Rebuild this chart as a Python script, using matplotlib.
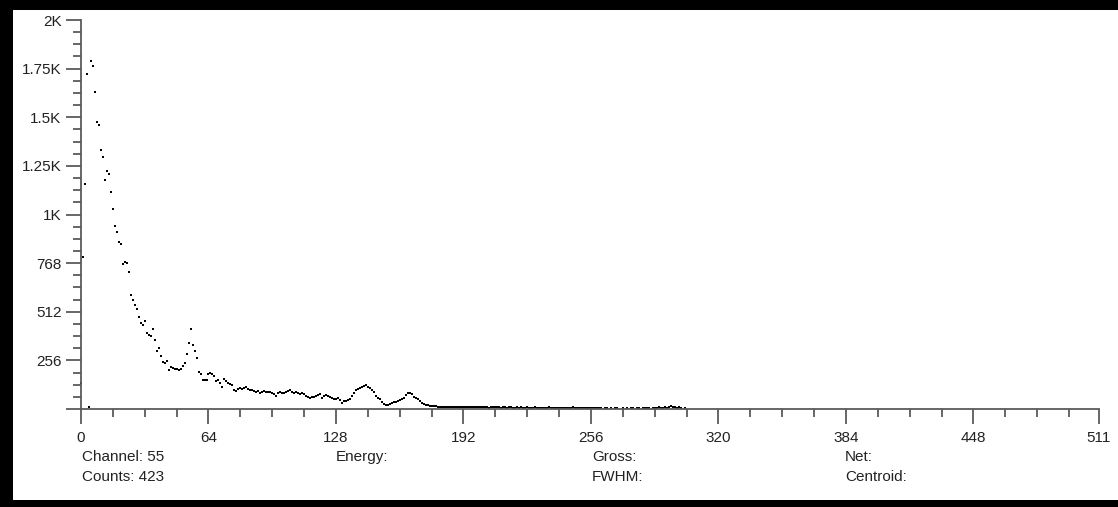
#!/usr/bin/env python3

"""MCA spectrum - counts per channel"""

import numpy as np
import matplotlib
matplotlib.use("Agg")
import matplotlib.pyplot as plt
from matplotlib.patches import Rectangle
from matplotlib.ticker import MultipleLocator, FixedLocator

plt.rcParams['font.family'] = ['Liberation Sans', 'DejaVu Sans']

# counts, channel 0 upwards
counts_low = [139, 802, 1183, 1762, 12, 1834, 1808, 1667, 1513, 1497,
              1362, 1325, 1207, 1255, 1239, 1144, 1054, 963, 934, 881,
              867, 762, 776, 770, 720, 600, 574, 548, 528, 486,
              454, 442, 465, 399, 391, 386, 423, 363, 307, 321]
counts_peak = [279, 249, 244, 254, 205, 219, 218, 212, 209, 205,
               209, 226, 244, 288, 346, 423, 337, 305, 270, 193,
               183, 153, 153, 153, 183, 188, 183, 174, 147, 153,
               139, 117, 156, 149, 139, 132, 125, 100, 95, 104,
               112, 105, 112, 115, 104, 100]
counts_mid = [98, 95, 92, 96, 83, 90, 95, 88, 92, 90,
              85, 80, 70, 85, 90, 86, 83, 92, 95, 100,
              92, 85, 88, 82, 80, 83, 78, 70, 62, 56,
              62, 65, 70, 74, 78, 60, 66, 73, 68, 65,
              58, 51, 54, 56, 47, 33, 40, 43, 48, 51,
              68, 83, 100, 104, 109, 118, 123, 126, 118, 109,
              100, 91, 68, 58, 51, 38, 28, 21, 21, 25,
              30, 35, 39, 43, 47, 52, 56, 74, 83, 83,
              79, 65, 58, 51, 42, 33, 25, 23, 21, 18,
              17, 16, 14, 12, 12, 13, 11, 12, 10, 11, 9]
counts_tail = [10, 9, 11, 8, 9, 10, 8, 9, 11, 9, 8, 10, 9, 8,
               9, 8, 10, 9, 7, 8, 9, 8, 10, 8, 7, 9, 8, 7, 8, 9, 7, 6, 8, 7,
               8, 7, 6, 8, 7, 6, 7, 8, 6, 7, 5, 6, 7, 6, 8, 7, 6, 5, 6, 7,
               6, 5, 7, 6, 5, 6, 8, 6, 5, 6, 7, 5, 6, 5, 4, 6, 5, 7, 5, 4,
               5, 0, 6, 4, 0, 5, 0, 4, 6, 0, 0, 5, 0, 4, 0, 6, 5, 0, 4, 5,
               0, 5, 6, 4, 5, 0, 7, 5, 6, 8, 5, 6, 9, 7, 10, 14, 8, 12, 6, 9,
               5, 0, 4, 0, 0]

counts = np.array(counts_low + counts_peak + counts_mid + counts_tail)
channels = np.arange(len(counts))

x_major = [0, 64, 128, 192, 256, 320, 384, 448, 511]
x_labels = ["0", "64", "128", "192", "256", "320", "384", "448", "511"]
y_major = [0, 256, 512, 768, 1024, 1280, 1536, 1792, 2048]
y_labels = ["", "256", "512", "768", "1K", "1.25K", "1.5K", "1.75K", "2K"]

W, H = 1118, 507
fig = plt.figure(figsize=(W / 100, H / 100), dpi=100, facecolor="black")
# white panel inside the black frame (frame on left, top and bottom only)
fig.patches.append(Rectangle((13 / W, 7 / H), (W - 13) / W, (499 - 9) / H,
                             transform=fig.transFigure, facecolor="white",
                             edgecolor="none", zorder=-10))

ax = fig.add_axes([81 / W, (H - 409) / H, (1099 - 81) / W, (409 - 20) / H])
ax.set_facecolor("none")
ax.set_zorder(2)

mask = counts > 0
ax.plot(channels[mask], counts[mask], ls="none", marker="s",
        markersize=2.0, color="black", mec="black", mew=0, clip_on=False)

ax.set_xlim(0, 511)
ax.set_ylim(0, 2048)

axis_col = "#5a5a5a"
for s in ["top", "right"]:
    ax.spines[s].set_visible(False)
ax.spines["left"].set_color(axis_col)
ax.spines["bottom"].set_color(axis_col)
ax.spines["left"].set_linewidth(1.3)
ax.spines["bottom"].set_linewidth(1.3)

ax.xaxis.set_major_locator(FixedLocator(x_major))
ax.set_xticklabels(x_labels)
ax.xaxis.set_minor_locator(FixedLocator([v for v in range(16, 511, 16) if v % 64]))
ax.yaxis.set_major_locator(FixedLocator(y_major))
ax.set_yticklabels(y_labels)
ax.yaxis.set_minor_locator(MultipleLocator(64))

ax.tick_params(which="major", length=11, width=1.3, color=axis_col,
               labelsize=11, labelcolor="#222222")
ax.tick_params(which="minor", length=5.5, width=1.3, color=axis_col)
ax.tick_params(axis="x", which="major", pad=5)
ax.tick_params(axis="y", which="major", pad=3)

# status lines under the plot
info = [(82, 457, "Channel: 55"), (82, 477, "Counts: 423"),
        (336, 457, "Energy:"),
        (592, 457, "Gross:"), (592, 477, "FWHM:"),
        (845, 457, "Net:"), (845, 477, "Centroid:")]
for px, py, txt in info:
    fig.text(px / W, 1 - py / H, txt, ha="left", va="center",
             fontsize=11, color="#222222")

fig.savefig("out.png", dpi=100, facecolor=fig.get_facecolor())
plt.close(fig)
